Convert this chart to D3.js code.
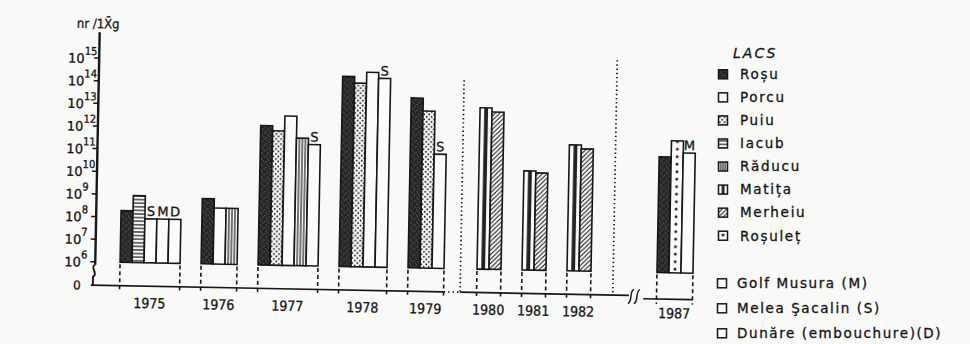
<!DOCTYPE html>
<html>
<head>
<meta charset="utf-8">
<script src="https://cdn.jsdelivr.net/npm/d3@7/dist/d3.min.js"></script>
<style>
  html, body { margin: 0; padding: 0; background: #f9f9f8; }
  svg { display: block; }
  text { fill: #141414; stroke: #141414; stroke-width: 0.3px; }
  .cond { font-family: "DejaVu Sans Condensed", "DejaVu Sans", sans-serif; }
  .sans { font-family: "DejaVu Sans", sans-serif; }
</style>
</head>
<body>
<svg id="chart" width="970" height="344"></svg>
<script>
// Bacterioplankton density (nr / 1 g), Danube Delta lakes, log scale
const years = ["1975", "1976", "1977", "1978", "1979", "1980", "1981", "1982", "1987"];
const yearSeries = [
  ["Roșu", "Iacub", "S", "M", "D"],
  ["Roșu", "Porcu", "Răducu"],
  ["Roșu", "Puiu", "Porcu", "Răducu", "S"],
  ["Roșu", "Puiu", "Porcu", "S"],
  ["Roșu", "Puiu", "S"],
  ["Matița", "Merheiu"],
  ["Matița", "Merheiu"],
  ["Matița", "Merheiu"],
  ["Roșu", "Roșuleț", "M"]
];
const yearValues = [
  [1.9e8, 9.0e8, 8.7e7, 8.7e7, 8.7e7],
  [7.6e8, 3.0e8, 3.0e8],
  [1.45e12, 8.7e11, 4.0e12, 4.3e11, 2.3e11],
  [2.5e14, 1.3e14, 4.0e14, 2.2e14],
  [3.2e13, 8.7e12, 1.1e11],
  [1.35e13, 9.0e12],
  [2.4e10, 2.0e10],
  [3.7e11, 2.5e11],
  [1.3e11, 6.8e11, 2.0e11]
];
const tickExponents = [6, 7, 8, 9, 10, 11, 12, 13, 14, 15];
const lakeNames = ["Roșu", "Porcu", "Puiu", "Iacub", "Răducu", "Matița", "Merheiu", "Roșuleț"];
const stationNames = ["Golf Musura (M)", "Melea Şacalin (S)", "Dunăre (embouchure)(D)"];
const stationKeys = ["M", "S", "D"];
const legendTitle = "LACS";
const yTitle = "nr /1X\u0304g";

const INK = "#161616";
const PAPER = "#fbfbfa";

const svg = d3.select("#chart");
const defs = svg.append("defs");

// ---------- fill patterns, one per drawn swatch so tiles line up with it ----------
let patCount = 0;
function fillFor(series, x0, y0, w) {
  if (!["Roșu", "Puiu", "Iacub", "Răducu", "Matița", "Merheiu", "Roșuleț"].includes(series)) return PAPER;
  const id = "pat" + (patCount++);
  const p = defs.append("pattern").attr("id", id)
    .attr("patternUnits", "userSpaceOnUse").attr("x", x0).attr("y", y0);
  const bg = (tw, th, c) => p.append("rect").attr("width", tw).attr("height", th).attr("fill", c);
  switch (series) {
    case "Roșu": {
      p.attr("width", 6).attr("height", 6);
      bg(6, 6, "#232323");
      [[1, 1], [4, 0.3], [2.5, 3], [5, 4], [0.2, 4.6], [3.4, 5.1], [1.6, 2.2]].forEach(([a, b]) =>
        p.append("rect").attr("x", a).attr("y", b).attr("width", 0.9).attr("height", 0.9).attr("fill", "#686868"));
      break;
    }
    case "Puiu": {
      p.attr("width", 5).attr("height", 5);
      bg(5, 5, PAPER);
      [[1.2, 1.3], [3.7, 3.8]].forEach(([a, b]) =>
        p.append("circle").attr("cx", a).attr("cy", b).attr("r", 0.95).attr("fill", INK));
      break;
    }
    case "Iacub": {
      p.attr("width", w).attr("height", 3.6);
      bg(w, 3.6, PAPER);
      p.append("line").attr("x1", 0).attr("x2", w).attr("y1", 1.8).attr("y2", 1.8)
        .attr("stroke", INK).attr("stroke-width", 1.2);
      break;
    }
    case "Răducu": {
      p.attr("width", w).attr("height", 10);
      bg(w, 10, PAPER);
      [0.25, 0.5, 0.75].forEach(f =>
        p.append("line").attr("x1", w * f).attr("x2", w * f).attr("y1", 0).attr("y2", 10)
          .attr("stroke", INK).attr("stroke-width", 1.2));
      break;
    }
    case "Matița": {
      p.attr("width", w).attr("height", 10);
      bg(w, 10, PAPER);
      p.append("rect").attr("x", w * 0.35).attr("width", w * 0.32).attr("height", 10).attr("fill", "#222");
      break;
    }
    case "Merheiu": {
      p.attr("width", 4.5).attr("height", 4.5);
      bg(4.5, 4.5, PAPER);
      p.append("path").attr("d", "M0,4.5L4.5,0M-1,1L1,-1M3.5,5.5L5.5,3.5")
        .attr("stroke", INK).attr("stroke-width", 1.1);
      break;
    }
    case "Roșuleț": {
      p.attr("width", w).attr("height", 7.5);
      bg(w, 7.5, PAPER);
      p.append("circle").attr("cx", w / 2).attr("cy", 3.75).attr("r", 1.45).attr("fill", INK);
      break;
    }
  }
  return `url(#${id})`;
}

// ---------- plot area (the printed figure sits slightly tilted) ----------
const chart = svg.append("g").attr("transform", "rotate(1.1,400,175)");

const BASE = 291;          // "0" line
const AXIS_X = 97;
const X0 = 121.8, BAR = 12, GAP = 1.75;
const dividerBefore = { "1980": 1.0, "1987": 3.75 };

const y = d3.scaleLog().domain([1e6, 1e15]).range([267.6, 63.9]);

let s = 0;
const groupStart = [];
years.forEach((yr, i) => {
  if (i > 0) s += GAP + (dividerBefore[yr] || 0);
  groupStart.push(s);
  s += yearSeries[i].length;
});
const totalSlots = s;
const x = d3.scaleLinear().domain([0, totalSlots]).range([X0, X0 + BAR * totalSlots]);

const bars = years.flatMap((yr, i) => yearSeries[i].map((ser, j) => ({
  year: yr, series: ser, value: yearValues[i][j], slot: groupStart[i] + j
})));

// y axis
const y6 = y(1e6);
chart.append("line").attr("x1", AXIS_X).attr("x2", AXIS_X).attr("y1", 38).attr("y2", y6 + 3)
  .attr("stroke", INK).attr("stroke-width", 2.4);
chart.append("path")
  .attr("d", `M${AXIS_X},${y6 + 3} C${AXIS_X - 6},${y6 + 6} ${AXIS_X + 4},${y6 + 11} ${AXIS_X - 2},${y6 + 15} L${AXIS_X - 2},${BASE}`)
  .attr("fill", "none").attr("stroke", INK).attr("stroke-width", 1.9);

const yt = chart.append("g");
tickExponents.forEach(k => {
  const v = Math.pow(10, k);
  yt.append("line").attr("x1", AXIS_X - 5).attr("x2", AXIS_X).attr("y1", y(v)).attr("y2", y(v))
    .attr("stroke", INK).attr("stroke-width", 1.5);
  const t = yt.append("text").attr("class", "sans").attr("x", 66).attr("y", y(v) + 5)
    .style("font-size", "13px");
  t.append("tspan").text("10");
  t.append("tspan").attr("class", "cond").attr("dy", -8).style("font-size", "11px").text(k);
});
chart.append("text").attr("class", "sans").attr("x", 79).attr("y", BASE + 4.5)
  .attr("text-anchor", "middle").style("font-size", "12px").text("0");
chart.append("text").attr("class", "cond").attr("x", 74).attr("y", 34)
  .style("font-size", "13px").text(yTitle);

// x axis line with its breaks
const lastEnd = i => groupStart[i] + yearSeries[i].length;
const i79 = years.indexOf("1979"), i82 = years.indexOf("1982"), i87 = years.indexOf("1987");
const div1 = x((lastEnd(i79) + groupStart[i79 + 1]) / 2);
const div2 = x(lastEnd(i82) + 1.85);
const brk0 = x(lastEnd(i82) + 3.2), brk1 = x(lastEnd(i82) + 4.4);
const ax = chart.append("g").attr("stroke", INK).attr("fill", "none");
ax.append("line").attr("x1", AXIS_X - 4).attr("x2", x(lastEnd(i79))).attr("y1", BASE).attr("y2", BASE).attr("stroke-width", 1.6);
ax.append("line").attr("x1", x(lastEnd(i79))).attr("x2", div1).attr("y1", BASE).attr("y2", BASE)
  .attr("stroke-width", 1.6).attr("stroke-dasharray", "1.5,3");
ax.append("line").attr("x1", div1).attr("x2", brk0).attr("y1", BASE).attr("y2", BASE).attr("stroke-width", 1.6);
ax.append("line").attr("x1", brk1).attr("x2", x(lastEnd(i87))).attr("y1", BASE + 3).attr("y2", BASE + 3).attr("stroke-width", 1.6);
[brk0 + 2, brk0 + 8].forEach(bx => {
  ax.append("path").attr("d", `M${bx - 3},${BASE + 8} C${bx + 2},${BASE + 7} ${bx - 2},${BASE - 5} ${bx + 3},${BASE - 6}`)
    .attr("stroke-width", 1.5);
});

// dotted separators
[[div1, 79], [div2, 56]].forEach(([dx, top]) => {
  chart.append("line").attr("x1", dx).attr("x2", dx).attr("y1", top).attr("y2", BASE)
    .attr("stroke", INK).attr("stroke-width", 1.7).attr("stroke-dasharray", "1.4,2.8");
});

// dashed group edges and year labels
const groups = chart.append("g");
years.forEach((yr, i) => {
  const a = x(groupStart[i]), b = x(lastEnd(i));
  const off = i === i87 ? 3 : 0;
  [a, b].forEach(ex => groups.append("line").attr("x1", ex).attr("x2", ex)
    .attr("y1", y6 + 2).attr("y2", BASE + off + 5)
    .attr("stroke", INK).attr("stroke-width", 1.6).attr("stroke-dasharray", "4,3"));
  groups.append("text").attr("class", "cond").attr("x", (a + b) / 2).attr("y", 313)
    .attr("text-anchor", "middle").style("font-size", "14px").text(yr);
});

// bars
chart.append("g").selectAll("rect").data(bars).join("rect")
  .attr("x", d => x(d.slot)).attr("y", d => y(d.value))
  .attr("width", BAR).attr("height", d => y6 - y(d.value))
  .attr("fill", d => fillFor(d.series, x(d.slot), y6, BAR))
  .attr("stroke", INK).attr("stroke-width", 1.6);

// station letters over their bars
chart.append("g").selectAll("text").data(bars.filter(d => stationKeys.includes(d.series))).join("text")
  .attr("class", "sans").attr("x", d => x(d.slot) + BAR / 2).attr("y", d => y(d.value) - 3)
  .attr("text-anchor", "middle").style("font-size", "13px").text(d => d.series);

// ---------- legend ----------
const leg = svg.append("g");
leg.append("text").attr("class", "sans").attr("x", 733).attr("y", 58)
  .style("font-size", "14px").style("font-style", "italic").style("letter-spacing", "2px").text(legendTitle);
lakeNames.forEach((nm, i) => {
  const cy = 74.3 + i * 23.06;
  leg.append("rect").attr("x", 718.5).attr("y", cy - 4.5).attr("width", 9).attr("height", 9)
    .attr("fill", fillFor(nm, 718.5, cy - 4.5, 9)).attr("stroke", INK).attr("stroke-width", 1.5);
  leg.append("text").attr("class", "sans").attr("x", 740).attr("y", cy + 4.8)
    .style("font-size", "13.5px").style("letter-spacing", "1.7px").text(nm);
});
stationNames.forEach((nm, i) => {
  const cy = 283.3 + i * 25;
  leg.append("rect").attr("x", 717.5).attr("y", cy - 4.5).attr("width", 9).attr("height", 9)
    .attr("fill", PAPER).attr("stroke", INK).attr("stroke-width", 1.5);
  leg.append("text").attr("class", "sans").attr("x", 737).attr("y", cy + 4.8)
    .style("font-size", "13.5px").style("letter-spacing", "1.6px").text(nm);
});
</script>
</body>
</html>
